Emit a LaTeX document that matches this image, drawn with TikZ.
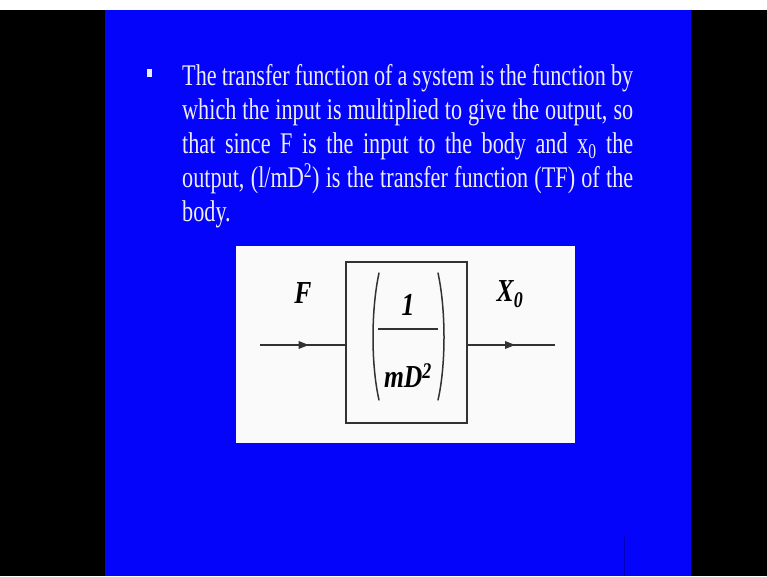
\documentclass[tikz,border=0pt]{standalone}
\usepackage{fontspec}
\usetikzlibrary{arrows.meta,decorations.markings}
\newfontfamily\slidefont[FakeStretch=0.74]{Liberation Serif}
\newfontfamily\diagfont[FakeStretch=0.8]{Liberation Serif}
\definecolor{slideblue}{RGB}{4,4,250}
\definecolor{slidetext}{RGB}{236,236,250}
\definecolor{panelwhite}{RGB}{250,250,250}
\definecolor{linegray}{RGB}{50,50,50}
\tikzset{
  bodytext/.style={inner sep=0pt, text=slidetext, align=left, font=\slidefont\fontsize{30}{34}\selectfont},
  diaglabel/.style={inner sep=0pt, text=black, font=\diagfont\bfseries\itshape\fontsize{32}{36}\selectfont},
  blockbox/.style={draw=linegray, line width=1.8pt, minimum width=121pt, minimum height=161pt, inner sep=0pt},
  sigline/.style={draw=linegray, line width=1.6pt},
  midarrow/.style={postaction={decorate}, decoration={markings, mark=at position #1 with {\fill[linegray] (-9pt,-4pt) -- (1pt,0pt) -- (-9pt,4pt) -- cycle;}}},
  parenline/.style={draw=linegray, line width=1.5pt, line cap=round}
}
\begin{document}
\begin{tikzpicture}[x=1pt,y=-1pt]
\useasboundingbox (0,0) rectangle (767,576);
% backgrounds
\fill[black] (0,0) rectangle (767,576);
\fill[white] (0,0) rectangle (767,10);
\fill[slideblue] (105,10) rectangle (691,576);
\draw[draw={rgb,255:red,0;green,0;blue,190}, line width=0.8pt] (624,535) -- (624,576);
% bullet
\fill[slidetext] (147,69) rectangle (152,77);
% body text (anchored at the baseline of its last line)
\node[bodytext, anchor=base west] (body) at (182,221) {%
\makebox[451pt][s]{The transfer function of a system is the function by}\\
\makebox[451pt][s]{which the input is multiplied to give the output, so}\\
\makebox[451pt][s]{that since F is the input to the body and x\textsubscript{0} the}\\
\makebox[451pt][s]{output, (l/mD\textsuperscript{2}) is the transfer function (TF) of the}\\
body.};
% white panel
\fill[panelwhite] (236,246) rectangle (575,443);
% block
\node[blockbox] (tf) at (406.5,342.5) {};
\coordinate (in) at (260,345);
\coordinate (out) at (555,345);
\draw[sigline, midarrow=0.56] (in) -- (in -| tf.west);
\draw[sigline, midarrow=0.53] (out -| tf.east) -- (out);
% labels
\node[diaglabel] (flabel) at (303,293) {F};
\node[diaglabel] (xlabel) at (510,294) {X\textsubscript{0}};
% fraction
\node[diaglabel] (num) at (408,305) {1};
\node[diaglabel] (den) at (408,376) {mD\textsuperscript{2}};
\draw[linegray, line width=1.4pt] (378,329) -- (438,329);
% parentheses
\draw[parenline] (379,273) .. controls (371,310) and (371,365) .. (379,400);
\draw[parenline] (438,273) .. controls (446,310) and (446,365) .. (438,400);
\end{tikzpicture}
\end{document}
